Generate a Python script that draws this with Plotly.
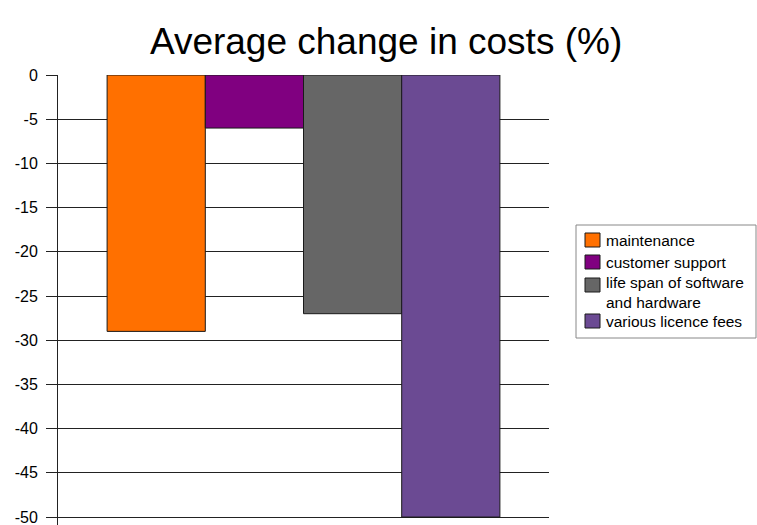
import textwrap
import plotly.graph_objects as go

# Average change in costs, one bar per cost item
series_names = [
    "maintenance",
    "customer support",
    "life span of software and hardware",
    "various licence fees",
]
series_values = [-29, -6, -27, -50]
series_colors = ["#FF7000", "#800080", "#666666", "#6B4A93"]

tick_values = [0, -5, -10, -15, -20, -25, -30, -35, -40, -45, -50]
tick_labels = ["0", "-5", "-10", "-15", "-20", "-25", "-30", "-35", "-40", "-45", "-50"]

W, H = 757, 525
L, R, T, B = 58, 208, 75, 0
PW, PH = W - L - R, H - T - B
LEGEND_FONT = 15.5


def px_x(px):
    return (px - L) / PW


def px_y(py):
    return (H - B - py) / PH


fig = go.Figure()
for name, val, col in zip(series_names, series_values, series_colors):
    fig.add_trace(go.Bar(
        x=["costs"], y=[val], name=name,
        marker=dict(color=col, line=dict(color="#1a1a1a", width=1)),
        showlegend=False,
    ))

# legend: frame, colour keys and wrapped labels
fig.add_shape(type="rect", xref="paper", yref="paper",
              x0=px_x(576), x1=px_x(756), y0=px_y(338), y1=px_y(225),
              line=dict(color="#888", width=1), fillcolor="white")
row_centres = [240, 262, 285, 321]
line_height = LEGEND_FONT * 1.3
for name, col, cy in zip(series_names, series_colors, row_centres):
    fig.add_shape(type="rect", xref="paper", yref="paper",
                  x0=px_x(585), x1=px_x(600), y0=px_y(cy + 7), y1=px_y(cy - 7),
                  line=dict(color="#1a1a1a", width=1), fillcolor=col)
    lines = textwrap.wrap(name, width=21)
    mid = cy - 3 * (len(lines) - 1) + (len(lines) - 1) * line_height / 2
    fig.add_annotation(text="<br>".join(lines), xref="paper", yref="paper",
                       x=px_x(605), y=px_y(mid), align="left",
                       xanchor="left", yanchor="middle", showarrow=False,
                       font=dict(size=LEGEND_FONT), borderpad=0)

fig.update_layout(
    width=W, height=H,
    margin=dict(l=L, r=R, t=T, b=B),
    paper_bgcolor="white", plot_bgcolor="white",
    barmode="group", bargap=0.2, bargroupgap=0,
    font=dict(family="Liberation Sans, Arial, sans-serif", color="black"),
    title=dict(text="Average change in costs (%)", x=0.51, xanchor="center",
               y=0.922, yanchor="middle",
               font=dict(size=37, family="Liberation Sans, Arial, sans-serif")),
    xaxis=dict(showticklabels=False, showgrid=False, zeroline=False,
               showline=False, ticks=""),
    yaxis=dict(range=[-50.9, 0], tickmode="array", tickvals=tick_values,
               ticktext=tick_labels, ticks="outside", ticklen=11,
               tickcolor="#222", tickfont=dict(size=16),
               ticklabelstandoff=5, ticklabeloverflow="allow",
               showgrid=True, gridcolor="#222", gridwidth=1,
               zeroline=False, showline=True, linecolor="#222", linewidth=1),
    showlegend=False,
)
fig.update_yaxes(automargin=False)

fig.write_html("out.html")
